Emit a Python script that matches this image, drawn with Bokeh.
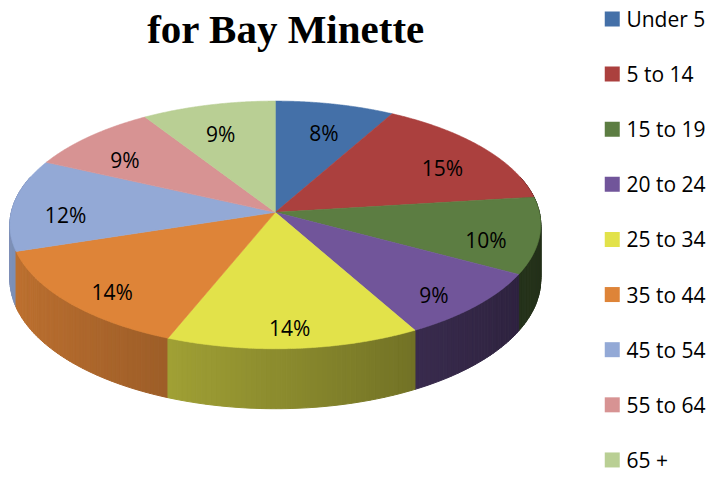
import numpy as np
from bokeh.plotting import figure
from bokeh.models import Range1d, ColumnDataSource
from bokeh.core.properties import value
from bokeh.embed import file_html
from bokeh.resources import INLINE

# ---- data ----
categories = ["Under 5", "5 to 14", "15 to 19", "20 to 24", "25 to 34",
              "35 to 44", "45 to 54", "55 to 64", "65 +"]
shares = [8, 15, 10, 9, 14, 14, 12, 9, 9]
colors = ["#4470a8", "#ab403e", "#5c7d42", "#71559a", "#e2e24a",
          "#de8438", "#93a9d6", "#d79393", "#b9cf94"]
title_text = "for Bay Minette"

# ---- geometry of the 3-D pie (style / layout) ----
CX, CY = 281.0, 219.0
RX, RY = 270.0, 126.7
PERSP = 0.1016
DEPTH = 55.7


def project(r, a):
    xp = r * np.cos(a)
    yp = r * np.sin(a)
    g = 1.0 / (1.0 - PERSP * yp)
    return CX + RX * xp * g, CY + RY * yp * g, g


def shade(hexcol, f):
    h = hexcol.lstrip("#")
    rgb = [int(h[i:i + 2], 16) for i in (0, 2, 4)]
    rgb = [max(0, min(255, int(round(c * f)))) for c in rgb]
    return "#%02x%02x%02x" % tuple(rgb)


vals = np.array(shares, dtype=float)
frac = vals / vals.sum()
cum = np.concatenate([[0.0], np.cumsum(frac)])
start_ang = -np.pi / 2 + 2 * np.pi * cum[:-1]
end_ang = -np.pi / 2 + 2 * np.pi * cum[1:]

p = figure(width=712, height=473, output_backend="svg", toolbar_location=None,
           x_range=Range1d(0, 728), y_range=Range1d(489, 0),
           x_axis_type=None, y_axis_type=None, min_border=0,
           outline_line_color=None, background_fill_color="white")
p.xgrid.visible = False
p.ygrid.visible = False

# ---- side walls ----
quads = []
for i in range(len(vals)):
    n = max(2, int(np.ceil((end_ang[i] - start_ang[i]) / np.radians(1.0))))
    angs = np.linspace(start_ang[i], end_ang[i], n + 1)
    for b0, b1 in zip(angs[:-1], angs[1:]):
        mid = 0.5 * (b0 + b1)
        if np.sin(mid) < -0.3:
            continue
        x0, y0, g0 = project(1.0, b0)
        x1, y1, g1 = project(1.0, b1)
        f = 0.62 - 0.24 * np.cos(mid)
        c = shade(colors[i], f)
        quads.append((np.sin(mid), [x0, x1, x1, x0],
                      [y0, y1, y1 + DEPTH * g1, y0 + DEPTH * g0], c))
quads.sort(key=lambda q: q[0])
side_src = ColumnDataSource(dict(xs=[q[1] for q in quads], ys=[q[2] for q in quads],
                                 c=[q[3] for q in quads]))
p.patches("xs", "ys", source=side_src, fill_color="c", line_color="c", line_width=1)

# ---- top faces ----
txs, tys = [], []
for i in range(len(vals)):
    angs = np.linspace(start_ang[i], end_ang[i], 120)
    px, py, _ = project(1.0, angs)
    txs.append([CX] + list(px))
    tys.append([CY] + list(py))
top_src = ColumnDataSource(dict(xs=txs, ys=tys, c=colors))
p.patches("xs", "ys", source=top_src, fill_color="c", line_color="c", line_width=0.6)

# ---- percentage labels ----
mid_ang = 0.5 * (start_ang + end_ang)
lx, ly, _ = project(0.8, mid_ang)
ly = ly + 9
lab_src = ColumnDataSource(dict(x=lx, y=ly,
                                t=["%d%%" % round(f * 100) for f in frac]))
p.text("x", "y", text="t", source=lab_src, text_align="center",
       text_baseline="middle", text_font=value("Open Sans"),
       text_font_size="21px", text_color="#000000")

# ---- title (second line visible) ----
p.text(x=[292], y=[29], text=[title_text], text_align="center",
       text_baseline="alphabetic", text_font=value("Liberation Serif"),
       text_font_style="bold", text_font_size="41px", text_color="#000000")

# ---- legend ----
ly_leg = [19 + 57 * k for k in range(len(categories))]
leg_src = ColumnDataSource(dict(x=[625.5] * len(categories), y=ly_leg,
                                c=colors, t=categories,
                                tx=[640] * len(categories)))
p.scatter("x", "y", source=leg_src, marker="square", size=15,
          fill_color="c", line_color=None)
p.text("tx", "y", text="t", source=leg_src, text_align="left",
       text_baseline="middle", text_font=value("Open Sans"),
       text_font_size="21px", text_color="#000000")

open("out.html", "w").write(file_html(p, INLINE))
